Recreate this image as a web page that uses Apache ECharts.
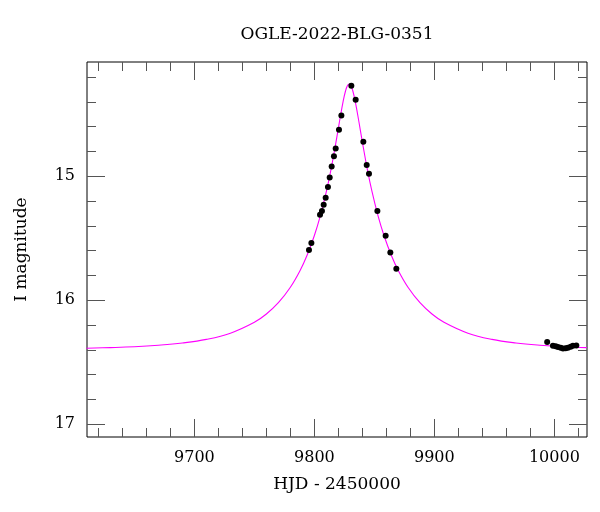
<!DOCTYPE html>
<html>
<head>
<meta charset="utf-8">
<script src="https://cdn.jsdelivr.net/npm/echarts@6/dist/echarts.min.js"></script>
<style>html,body{margin:0;padding:0;background:#fff}#c{width:600px;height:512px}</style>
</head>
<body>
<div id="c"></div>
<script>
// ---- data ----
const titleText = 'OGLE-2022-BLG-0351';
const xName = 'HJD - 2450000';
const yName = 'I magnitude';
const xMajor = [9700, 9800, 9900, 10000];
const xMinor = [9620, 9640, 9660, 9680, 9720, 9740, 9760, 9780, 9820, 9840, 9860, 9880, 9920, 9940, 9960, 9980, 10020];
const yMajor = [15, 16, 17];
const yMinor = [14.2, 14.4, 14.6, 14.8, 15.2, 15.4, 15.6, 15.8, 16.2, 16.4, 16.6, 16.8];
const xRange = [9610.5, 10027.2];
const yRange = [14.079, 17.103];

const obsDays = [9795.5, 9797.5, 9804.7, 9806.3, 9807.75, 9809.4, 9811.3, 9812.75, 9814.4, 9816.3, 9817.75, 9820.5, 9822.5, 9830.8, 9834.4, 9840.8, 9843.6, 9845.5, 9852.5, 9859.4, 9863.3, 9868.3, 9994.0, 9998.8, 10001.1, 10003.0, 10005.25, 10007.2, 10009.4, 10011.3, 10013.6, 10015.5, 10018.3];
const obsMag = [15.595, 15.539, 15.310, 15.281, 15.230, 15.173, 15.087, 15.010, 14.921, 14.840, 14.776, 14.625, 14.510, 14.270, 14.383, 14.722, 14.910, 14.980, 15.281, 15.480, 15.615, 15.746, 16.336, 16.367, 16.371, 16.377, 16.383, 16.389, 16.387, 16.383, 16.375, 16.367, 16.365];

const modelDays = [9610, 9630, 9650, 9670, 9690, 9710, 9730, 9750, 9760, 9770, 9780, 9788, 9794, 9800, 9805, 9810, 9814, 9818, 9821, 9824, 9826, 9827.5, 9829, 9830.5, 9832, 9834, 9837, 9840, 9844, 9848, 9853, 9858, 9864, 9870, 9878, 9888, 9898, 9908, 9928, 9948, 9968, 9988, 10008, 10027];
const modelMag = [16.387, 16.382, 16.375, 16.363, 16.345, 16.316, 16.266, 16.178, 16.111, 16.020, 15.895, 15.762, 15.635, 15.478, 15.318, 15.123, 14.938, 14.725, 14.555, 14.394, 14.311, 14.271, 14.257, 14.271, 14.311, 14.394, 14.555, 14.725, 14.938, 15.123, 15.318, 15.478, 15.635, 15.762, 15.895, 16.020, 16.111, 16.178, 16.266, 16.316, 16.345, 16.363, 16.375, 16.382];

// ---- chart ----
const FONT = 'DejaVu Serif';
const TICK = '#555';
function xAx(pos, vals, len, labels) {
  return {
    type: 'value', position: pos, min: xRange[0], max: xRange[1],
    axisLine: { show: false }, splitLine: { show: false },
    axisTick: { show: true, inside: true, length: len, customValues: vals, lineStyle: { color: TICK, width: 1 } },
    axisLabel: labels ? { show: true, customValues: vals, margin: 13, color: '#000', fontFamily: FONT, fontSize: 16, formatter: v => String(v) } : { show: false },
    name: labels ? xName : '', nameLocation: 'middle', nameGap: 39,
    nameTextStyle: { color: '#000', fontFamily: FONT, fontSize: 17 }
  };
}
function yAx(pos, vals, len, labels) {
  return {
    type: 'value', position: pos, min: yRange[0], max: yRange[1], inverse: true,
    axisLine: { show: false }, splitLine: { show: false },
    axisTick: { show: true, inside: true, length: len, customValues: vals, lineStyle: { color: TICK, width: 1 } },
    axisLabel: labels ? { show: true, customValues: vals, margin: 12, color: '#000', fontFamily: FONT, fontSize: 16, formatter: v => String(v) } : { show: false },
    name: labels ? yName : '', nameLocation: 'middle', nameGap: 57, nameRotate: 90,
    nameTextStyle: { color: '#000', fontFamily: FONT, fontSize: 17 }
  };
}

const chart = echarts.init(document.getElementById('c'), null, { renderer: 'canvas' });
chart.setOption({
  animation: false,
  backgroundColor: '#fff',
  title: {
    text: titleText, left: 332, top: 21, textAlign: 'center',
    textStyle: { color: '#000', fontFamily: FONT, fontSize: 17, fontWeight: 'normal' }
  },
  grid: { left: 87, right: 13, top: 62, bottom: 75, show: true, borderColor: '#000', borderWidth: 1, backgroundColor: 'transparent' },
  xAxis: [
    xAx('bottom', xMajor, 18, true),
    xAx('bottom', xMinor, 9, false),
    xAx('top', xMajor, 18, false),
    xAx('top', xMinor, 9, false)
  ],
  yAxis: [
    yAx('left', yMajor, 18, true),
    yAx('left', yMinor, 9, false),
    yAx('right', yMajor, 18, false),
    yAx('right', yMinor, 9, false)
  ],
  series: [
    {
      type: 'line', xAxisIndex: 0, yAxisIndex: 0,
      data: modelDays.map((d, i) => [d, modelMag[i]]),
      showSymbol: false, smooth: 0.4,
      lineStyle: { color: '#ff00ff', width: 1.1 }, z: 2
    },
    {
      type: 'scatter', xAxisIndex: 0, yAxisIndex: 0,
      data: obsDays.map((d, i) => [d, obsMag[i]]),
      symbol: 'circle', symbolSize: 6,
      itemStyle: { color: '#000', opacity: 1 }, z: 3
    }
  ]
});
</script>
</body>
</html>
